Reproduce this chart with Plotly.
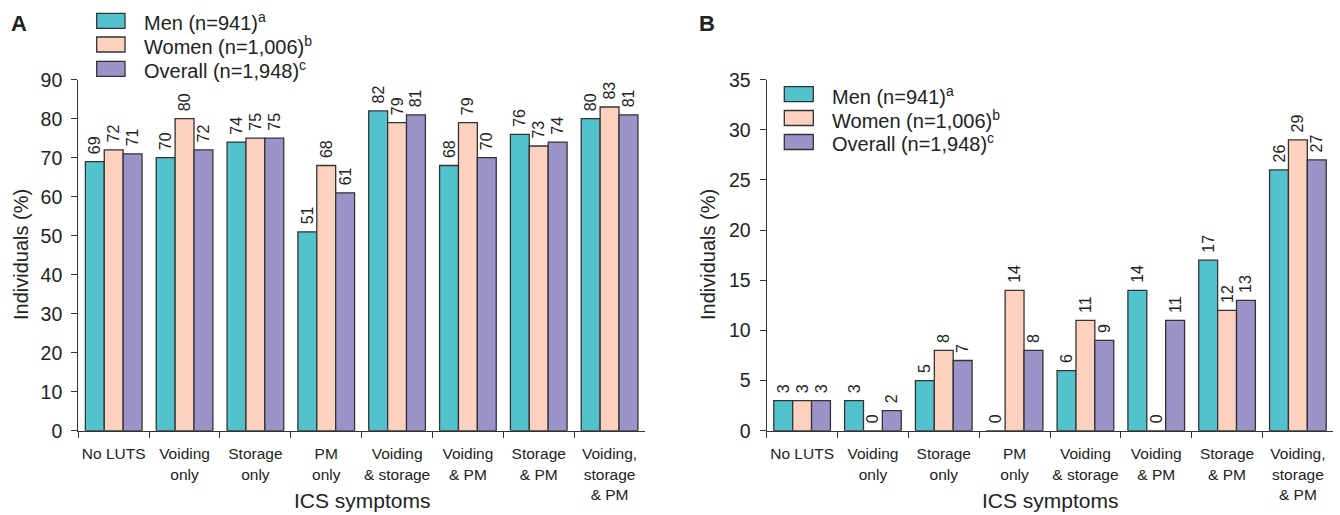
import plotly.graph_objects as go

W, H = 1340, 515

categories = ["No LUTS", "Voiding<br>only", "Storage<br>only", "PM<br>only",
              "Voiding<br>& storage", "Voiding<br>& PM", "Storage<br>& PM",
              "Voiding,<br>storage<br>& PM"]

series_names = ["Men (n=941)", "Women (n=1,006)", "Overall (n=1,948)"]
series_sups = ["a", "b", "c"]

a_men = [69, 70, 74, 51, 82, 68, 76, 80]
a_women = [72, 80, 75, 68, 79, 79, 73, 83]
a_overall = [71, 72, 75, 61, 81, 70, 74, 81]

b_men = [3, 3, 5, 0, 6, 14, 17, 26]
b_women = [3, 0, 8, 14, 11, 0, 12, 29]
b_overall = [3, 2, 7, 8, 9, 11, 13, 27]

a_yticks = [0, 10, 20, 30, 40, 50, 60, 70, 80, 90]
b_yticks = [0, 5, 10, 15, 20, 25, 30, 35]

colors = ["#52C3CD", "#FDD1C0", "#9B94C8"]
outline = "#333333"
ink = "#222222"
FONT = "Liberation Sans, Arial, sans-serif"


def px_x(x):
    return x / W


def px_y(y):
    return 1 - y / H


fig = go.Figure()

panels = [
    ("x", "y", [a_men, a_women, a_overall]),
    ("x2", "y2", [b_men, b_women, b_overall]),
]
for xa, ya, vals in panels:
    for name, v, c in zip(series_names, vals, colors):
        fig.add_trace(go.Bar(
            x=categories, y=v, name=name, xaxis=xa, yaxis=ya,
            marker=dict(color=c, line=dict(color=outline, width=1.3)),
            text=["\u00a0" + str(t) for t in v], textposition="outside",
            textangle=-90, constraintext="none", cliponaxis=False,
            textfont=dict(size=16, color=ink, family=FONT),
            showlegend=False, hoverinfo="x+y",
        ))

ydom = [px_y(430.7), px_y(79.7)]

xcommon = dict(
    type="category", showline=True, linecolor=outline, linewidth=1.3,
    ticks="outside", tickson="boundaries", ticklen=6, tickcolor=outline,
    tickwidth=1.3, showgrid=False, zeroline=False, tickangle=0,
    automargin=False, ticklabelstandoff=9,
    tickfont=dict(size=15.5, color=ink, family=FONT),
)
ycommon = dict(
    showline=True, linecolor=outline, linewidth=1.3, ticks="outside",
    ticklen=6, tickcolor=outline, tickwidth=1.3, showgrid=False,
    zeroline=False, automargin=False,
    tickfont=dict(size=19.5, color=ink, family=FONT),
    ticklabelstandoff=5,
)

fig.update_layout(
    width=W, height=H,
    margin=dict(l=0, r=0, t=0, b=0, pad=0),
    paper_bgcolor="white", plot_bgcolor="white",
    barmode="group", bargap=0.2, bargroupgap=0,
    font=dict(family=FONT, color=ink),
    xaxis=dict(domain=[px_x(78.3), px_x(645)], anchor="y", **xcommon),
    yaxis=dict(domain=ydom, anchor="x", range=[0, 90], tickvals=a_yticks, **ycommon),
    xaxis2=dict(domain=[px_x(766.7), px_x(1333.3)], anchor="y2", **xcommon),
    yaxis2=dict(domain=ydom, anchor="x2", range=[0, 35], tickvals=b_yticks, **ycommon),
)

annotations = []
shapes = []

# panel letters
for letter, cx in [("A", 19), ("B", 707)]:
    annotations.append(dict(text="<b>%s</b>" % letter, x=px_x(cx), y=px_y(23.5),
                            xref="paper", yref="paper", showarrow=False,
                            xanchor="center", yanchor="middle",
                            font=dict(size=22, color=ink, family=FONT)))

# axis titles
for cx in [21, 708]:
    annotations.append(dict(text="Individuals (%)", x=px_x(cx), y=px_y(255),
                            xref="paper", yref="paper", showarrow=False,
                            textangle=-90, xanchor="center", yanchor="middle",
                            font=dict(size=20, color=ink, family=FONT)))
for cx in [362, 1050]:
    annotations.append(dict(text="ICS symptoms", x=px_x(cx), y=px_y(500),
                            xref="paper", yref="paper", showarrow=False,
                            xanchor="center", yanchor="middle",
                            font=dict(size=21, color=ink, family=FONT)))

# custom legends
legend_layouts = [
    (96.7, 125, 142, [20.8, 44.5, 68.8]),
    (784.3, 813.3, 830, [94.2, 118, 142]),
]
for bx0, bx1, tx, rows in legend_layouts:
    for name, sup, c, cy in zip(series_names, series_sups, colors, rows):
        shapes.append(dict(type="rect", xref="paper", yref="paper",
                           x0=px_x(bx0), x1=px_x(bx1),
                           y0=px_y(cy - 7.5), y1=px_y(cy + 7.5),
                           fillcolor=c, line=dict(color=outline, width=1.3)))
        annotations.append(dict(text="%s<sup>%s</sup>" % (name, sup),
                                x=px_x(tx), y=px_y(cy + 1), xref="paper", yref="paper",
                                showarrow=False, xanchor="left", yanchor="middle",
                                font=dict(size=20, color=ink, family=FONT)))

fig.update_layout(annotations=annotations, shapes=shapes)

fig.write_html(
    "out.html",
    config={"displayModeBar": False},
    post_script="document.body.style.margin='0';document.body.style.padding='0';"
                "document.documentElement.style.overflow='hidden';",
)
